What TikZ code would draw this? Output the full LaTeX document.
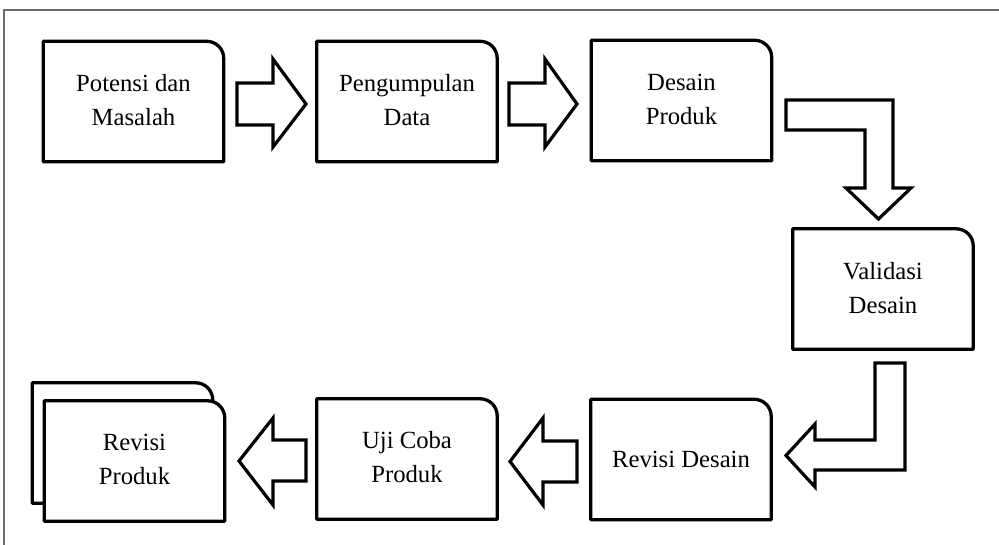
\documentclass[tikz,border=0pt]{standalone}
\usepackage{fontspec}
\setmainfont{Liberation Serif}
\tikzset{
  boxline/.style={line width=3.3pt, line join=round, fill=white},
  blockarrow/.style={line width=3.2pt, line join=miter, miter limit=10, fill=white},
  boxnode/.style={minimum width=180pt, minimum height=120pt, inner sep=0pt, align=center,
    font=\fontsize{24.7}{34}\selectfont},
  frameline/.style={draw=gray!85!black, line width=1.4pt}
}
% line with uniform height and depth
\newcommand\uline[1]{\vphantom{Pg}#1}
% outline of a box with rounded top-right corner
\newcommand\rtbox[2][]{%
  \draw[boxline,#1] (#2.south west) -- (#2.north west) -- ([xshift=-17pt]#2.north east)
    .. controls ([xshift=-7.6pt]#2.north east) and ([yshift=-7.6pt]#2.north east) .. ([yshift=-17pt]#2.north east)
    -- (#2.south east) -- cycle;}
\begin{document}
\begin{tikzpicture}[x=1pt,y=-1pt]
\useasboundingbox (0,0) rectangle (999,545);
\fill[white] (0,0) rectangle (999,545);
% frame
\draw[frameline] (4,545) -- (4,10) -- (999,10);

% boxes (named nodes, outlines drawn below)
\node[boxnode] (b1) at (133.5,101.5) {};
\node[boxnode] (b2) at (407,101.5) {};
\node[boxnode] (b3) at (681.5,100.5) {};
\node[boxnode] (b4) at (883,289) {};
\node[boxnode] (b5) at (681,459.5) {};
\node[boxnode] (b6) at (407,459) {};
\node[boxnode] (b7) at (134.5,461) {};

\rtbox{b1}
\rtbox{b2}
\rtbox{b3}
\rtbox{b4}
\rtbox{b5}
\rtbox{b6}
% multi-document: back sheet then front sheet
\draw[boxline] ([xshift=-12pt,yshift=18pt]b7.south west) -- ([xshift=-12pt,yshift=18pt]b7.north west)
  -- ([xshift=-29pt,yshift=18pt]b7.north east)
  .. controls ([xshift=-19.6pt,yshift=18pt]b7.north east) and ([xshift=-12pt,yshift=10.4pt]b7.north east)
  .. ([xshift=-12pt,yshift=1pt]b7.north east) -- ([xshift=-12pt,yshift=18pt]b7.south east) -- cycle;
\rtbox{b7}

% texts
\node[boxnode] (t1) at ([yshift=-1pt]b1.center) {\uline{Potensi dan}\\\uline{Masalah}};
\node[boxnode] (t2) at ([yshift=-1pt]b2.center) {\uline{Pengumpulan}\\\uline{Data}};
\node[boxnode] (t3) at ([yshift=-1pt]b3.center) {\uline{Desain}\\\uline{Produk}};
\node[boxnode] (t4) at ([yshift=-2pt]b4.center) {\uline{Validasi}\\\uline{Desain}};
\node[boxnode] (t5) at (b5.center) {Revisi Desain};
\node[boxnode] (t6) at ([yshift=-1pt]b6.center) {\uline{Uji Coba}\\\uline{Produk}};
\node[boxnode] (t7) at ([yshift=-1pt]b7.center) {\uline{Revisi}\\\uline{Produk}};

% block arrows
% b1 -> b2
\draw[blockarrow] (237,83) -- (273,83) -- (273,59) -- (306,104) -- (273,147) -- (273,125) -- (237,125) -- cycle;
% b2 -> b3
\draw[blockarrow] (509,83) -- (545,83) -- (545,59) -- (577,104) -- (545,147) -- (545,125) -- (509,125) -- cycle;
% b3 -> b4 (bent)
\draw[blockarrow] (786,100) -- (893,100) -- (893,188) -- (911,188) -- (878.5,219) -- (846,188) -- (865,188) -- (865,130) -- (786,130) -- cycle;
% b4 -> b5 (bent)
\draw[blockarrow] (875,363) -- (905,363) -- (905,470) -- (815,470) -- (815,487) -- (786,455.5) -- (815,424) -- (815,440) -- (875,440) -- cycle;
% b5 -> b6
\draw[blockarrow] (577,441) -- (543,441) -- (543,418) -- (510,461.5) -- (543,505) -- (543,482) -- (577,482) -- cycle;
% b6 -> b7
\draw[blockarrow] (306,440) -- (273,440) -- (273,418) -- (239,461) -- (273,505) -- (273,481) -- (306,481) -- cycle;
\end{tikzpicture}
\end{document}
